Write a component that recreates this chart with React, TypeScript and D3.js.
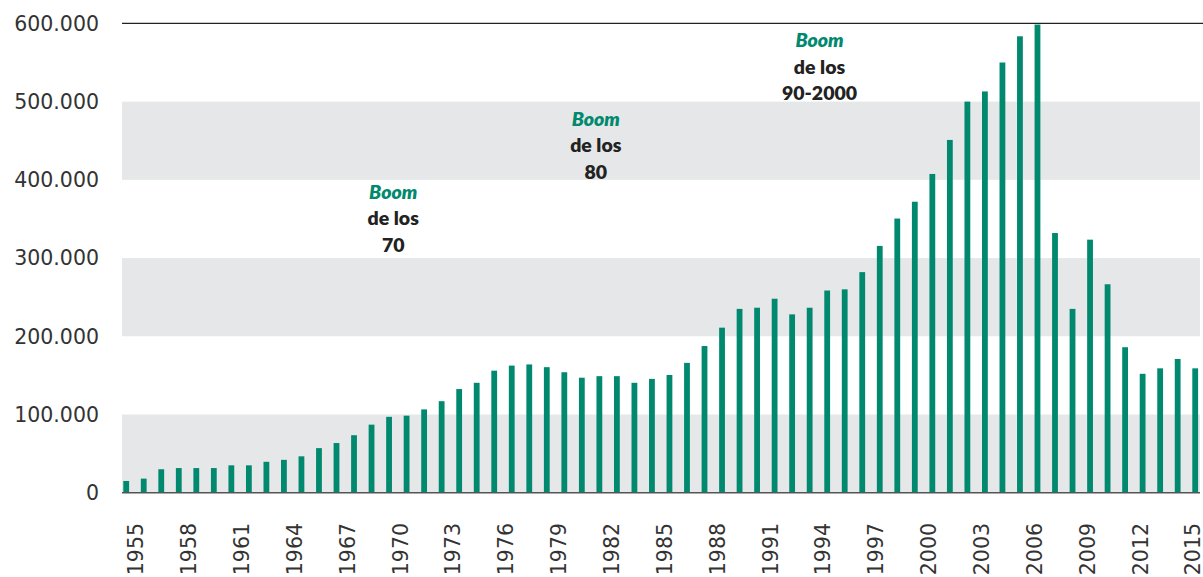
import React, { useEffect } from "react";
import * as d3 from "d3";

const years: number[] = d3.range(1954, 2016);
const values: number[] = [
  15000, 18000, 30000, 31500, 31500, 31500, 35000, 35000, 39500, 42000,
  46500, 57000, 63500, 73500, 87000, 97000, 98500, 106500, 117000, 132500,
  140500, 156000, 162500, 164000, 160500, 154000, 147000, 149000, 149000, 140500,
  145500, 150500, 166000, 187500, 211000, 235000, 236500, 248000, 228000, 236500,
  258500, 260000, 282000, 315500, 350500, 372000, 407500, 451000, 500000, 513000,
  550000, 583500, 598500, 332000, 235000, 323500, 266500, 186000, 152000, 159000,
  171000, 159000,
];
const yTicks: number[] = [0, 100000, 200000, 300000, 400000, 500000, 600000];
const bandRanges: [number, number][] = [
  [0, 100000],
  [200000, 300000],
  [400000, 500000],
];
const labelYears: number[] = d3.range(1955, 2016, 3);
const annotations = [
  { year: 1969.6, top: 375500, lines: ["de los", "70"] },
  { year: 1981.1, top: 469000, lines: ["de los", "80"] },
  { year: 1993.8, top: 569500, lines: ["de los", "90-2000"] },
];

const W = 1203;
const H = 577;
const GREEN = "#00896f";

export default function App() {
  useEffect(() => {
    document.body.style.margin = "0";
  }, []);

  const x = d3
    .scaleBand<number>()
    .domain(years)
    .range([123.3, 1198.1])
    .paddingInner(0.669)
    .paddingOuter(0);
  const y = d3.scaleLinear().domain([0, 600000]).range([492.7, 23.4]);
  const xLabel = d3.scaleLinear().domain([1955, 2015]).range([136, 1193]);
  const fmt = (v: number) => d3.format(",")(v).replace(/,/g, ".");

  const plotL = 122;
  const plotR = 1200;

  return (
    <svg
      width={W}
      height={H}
      style={{ position: "absolute", left: 0, top: 0, display: "block" }}
    >
      <rect x={0} y={0} width={W} height={H} fill="#fff" />
      {bandRanges.map(([a, b], i) => (
        <rect
          key={i}
          x={plotL}
          y={y(b)}
          width={plotR - plotL}
          height={y(a) - y(b)}
          fill="#e6e7e8"
        />
      ))}
      <line
        x1={plotL}
        x2={plotR + 3}
        y1={y(600000)}
        y2={y(600000)}
        stroke="#222"
        strokeWidth={1.3}
      />
      {values.map((v, i) => (
        <rect
          key={years[i]}
          x={x(years[i])}
          y={y(v)}
          width={x.bandwidth()}
          height={y(0) - y(v)}
          fill={GREEN}
        />
      ))}
      <line
        x1={plotL}
        x2={plotR}
        y1={y(0)}
        y2={y(0)}
        stroke="#555"
        strokeWidth={1.5}
      />
      {yTicks.map((t) => (
        <text
          key={t}
          x={99}
          y={y(t)}
          dy="0.36em"
          textAnchor="end"
          fontFamily="'DejaVu Sans', sans-serif"
          fontSize={20.5}
          fill="#333"
        >
          {fmt(t)}
        </text>
      ))}
      {labelYears.map((yr) => (
        <text
          key={yr}
          transform={`translate(${xLabel(yr)},523) rotate(-90)`}
          dy="0.36em"
          textAnchor="end"
          fontFamily="'DejaVu Sans', sans-serif"
          fontSize={20.5}
          fill="#333"
        >
          {yr}
        </text>
      ))}
      {annotations.map((a, i) => {
        const cx = xLabel(a.year);
        const base = y(a.top);
        return (
          <g key={i} fontFamily="Lato, sans-serif" fontWeight={800} fontSize={19.5} textAnchor="middle">
            <text x={cx} y={base} fill={GREEN} fontStyle="italic">
              Boom
            </text>
            {a.lines.map((l, j) => (
              <text key={j} x={cx} y={base + 26.5 * (j + 1)} fill="#222">
                {l}
              </text>
            ))}
          </g>
        );
      })}
    </svg>
  );
}
